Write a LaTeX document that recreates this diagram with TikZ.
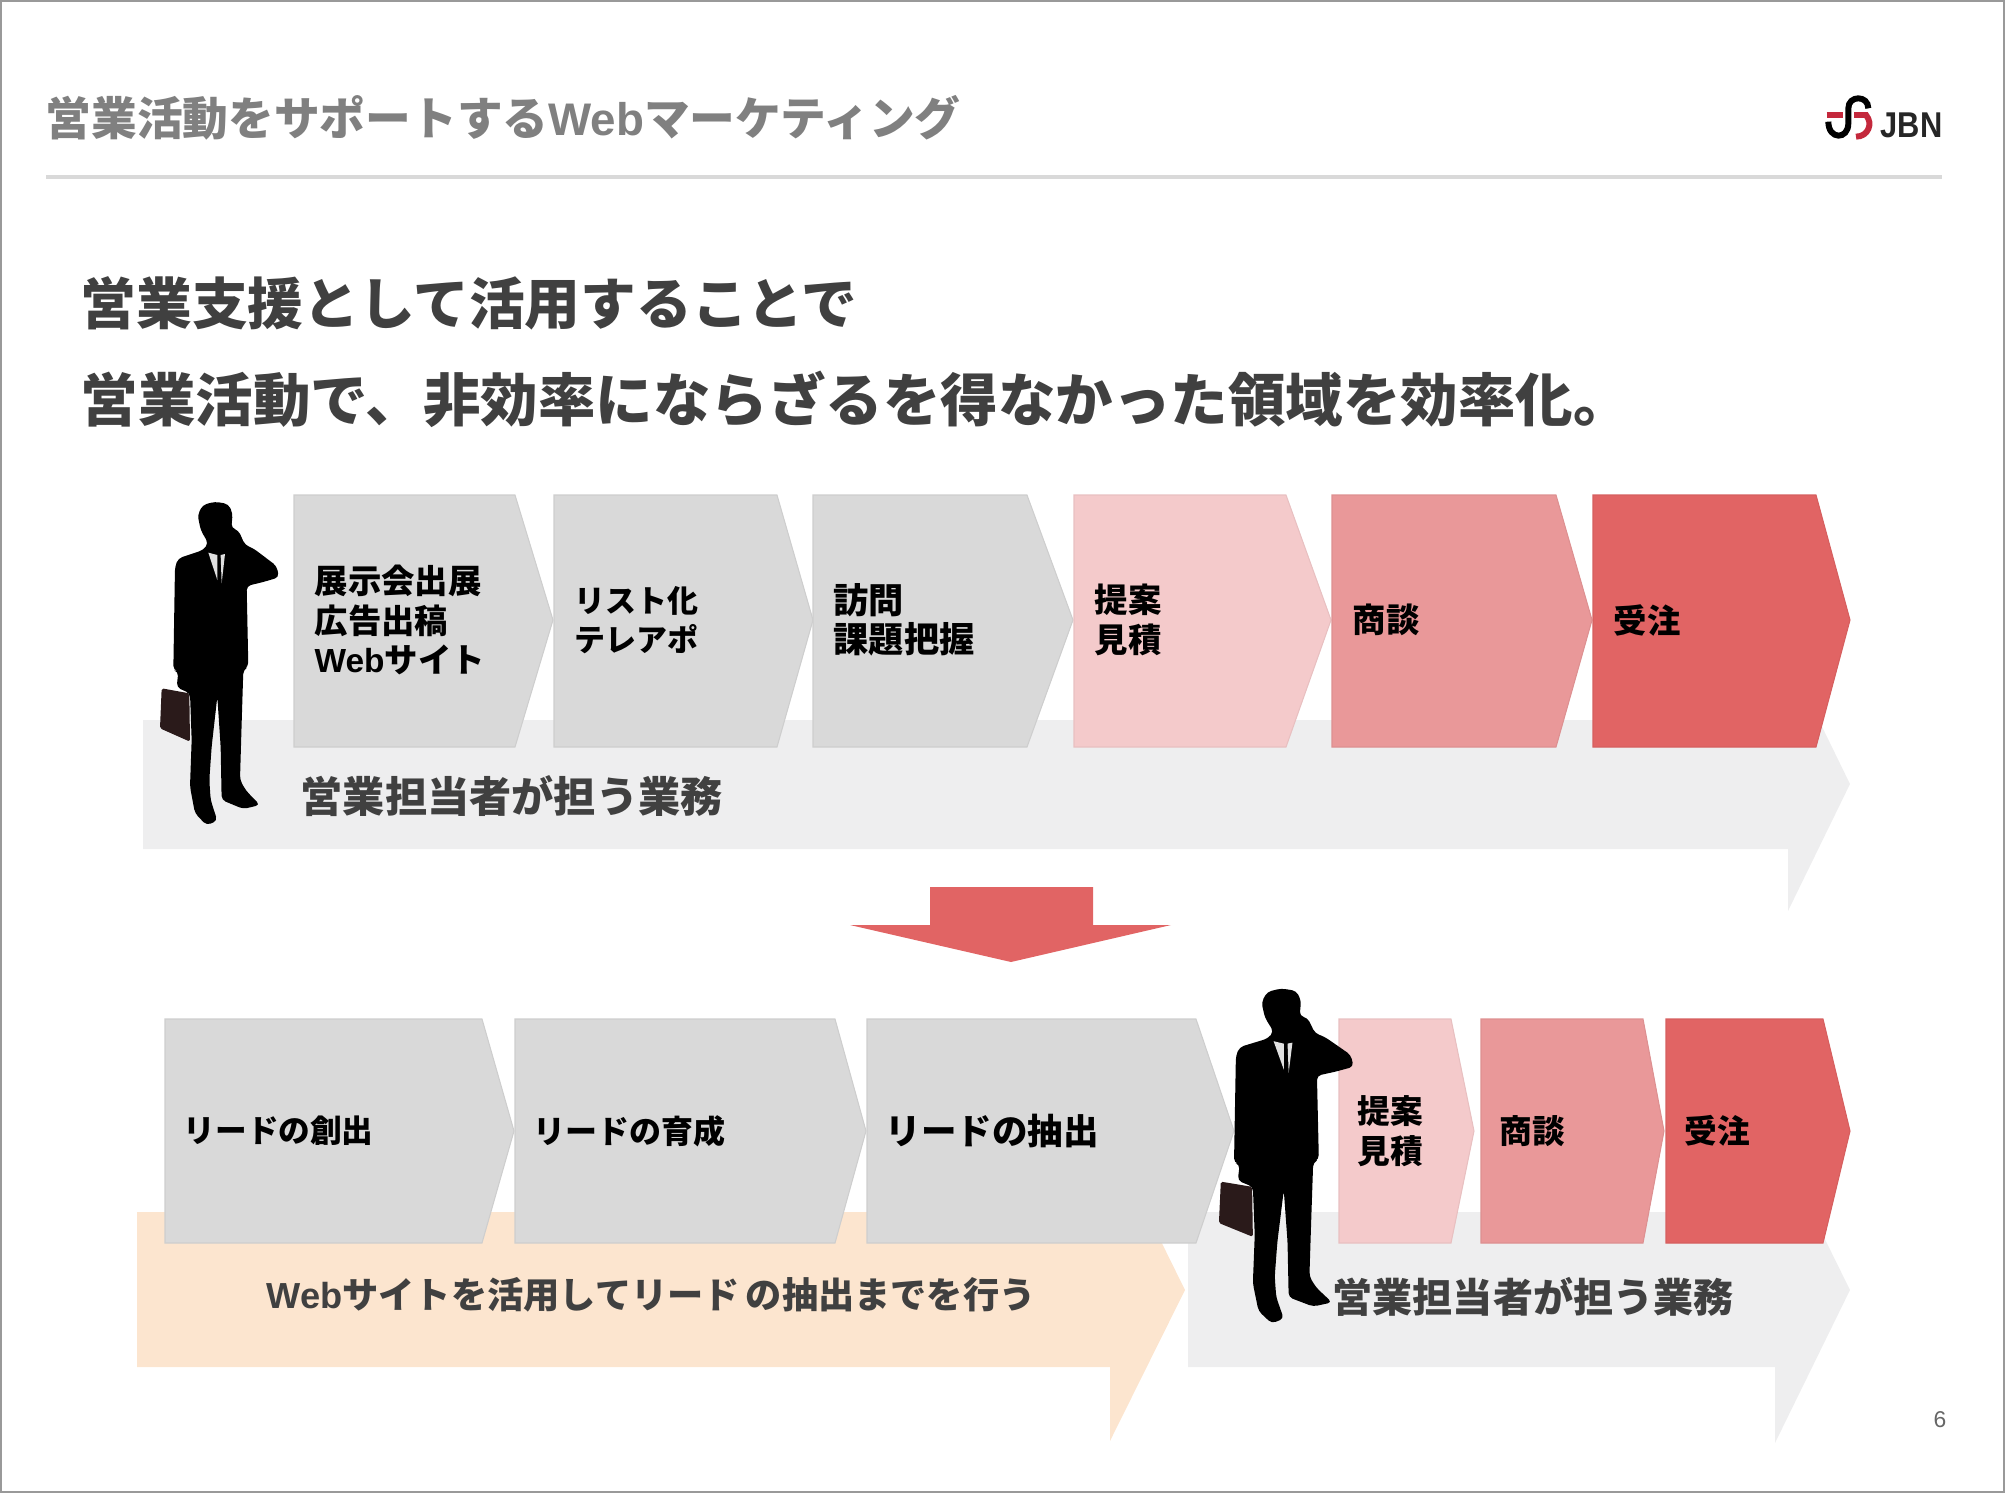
\documentclass[tikz,border=0pt]{standalone}
\usepackage{fontspec}
\setmainfont{Noto Sans CJK JP}
\newfontfamily\lat{Liberation Sans}
\definecolor{bandgray}{RGB}{238,238,239}
\definecolor{stepgray}{RGB}{217,217,217}
\definecolor{steppink}{RGB}{244,202,203}
\definecolor{steprose}{RGB}{233,152,153}
\definecolor{stepred}{RGB}{225,100,100}
\definecolor{bandorange}{RGB}{252,229,207}
\definecolor{logored}{RGB}{196,40,60}
\definecolor{bagbrown}{RGB}{42,26,26}
\tikzset{
    steplabel/.style={anchor=west, inner sep=0pt, align=left, text=black},
    bandlabel/.style={inner sep=0pt, text=black!75},
    pics/caller/.style={code={
        \fill[bagbrown, rounded corners=0.5pt] (95,625) -- (178,640) -- (180,785) -- (90,745) -- cycle;
        \fill[black, rounded corners=1.2pt] (255,65) -- (295,72) -- (308,100) -- (304,145) -- (325,150) -- (345,195)
            -- (370,205) -- (440,258) -- (447,292) -- (400,306) -- (350,318) -- (355,560) -- (340,570) -- (335,730)
            -- (330,900) -- (348,932) -- (390,975) -- (340,987) -- (275,960) -- (272,800) -- (262,650)
            -- (245,800) -- (238,900) -- (242,960) -- (262,1022) -- (230,1036) -- (195,1000) -- (180,920)
            -- (185,780) -- (180,640) -- (140,622) -- (145,575) -- (130,570) -- (135,260) -- (145,235) -- (220,210)
            -- (235,190) -- (212,150) -- (203,105) -- (218,75) -- cycle;
        \fill[black!12] (235,218) -- (262,225) -- (262,300) -- cycle;
        \fill[black!12] (272,225) -- (285,222) -- (275,310) -- cycle;
    }}
}
\begin{document}
\begin{tikzpicture}[x=0.01cm, y=-0.01cm]
    \useasboundingbox (0,0) rectangle (2005,1493);
    \draw[black!40, line width=0.6pt] (1,1) rectangle (2004,1492);

    % header
    \node[anchor=west, inner sep=0pt, text=black!50, font={\fontsize{13}{15}\selectfont\bfseries}] (title) at (45,118)
        {営業活動をサポートする{\lat Web}マーケティング};
    \draw[stepgray, line width=1pt] (46,177) -- (1942,177);
    \begin{scope}[shift={(1780,80)}, scale=0.3333]
        \draw[black, line width=1.7pt] (145,125) .. controls (145,180) and (205,180) .. (205,130) -- (205,85)
            .. controls (205,45) and (265,45) .. (265,85);
        \draw[logored, line width=1.7pt] (140,105) -- (188,105);
        \draw[logored, line width=1.7pt] (222,105) -- (258,105) .. controls (280,130) and (265,170) .. (228,170);
    \end{scope}
    \node[anchor=west, inner sep=0pt, xscale=0.86, font={\lat\fontsize{10.2}{12}\selectfont\bfseries}, text=black!85] (logo) at (1880,125) {JBN};

    \node[anchor=west, inner sep=0pt, text=black!75, font={\fontsize{15.85}{18}\selectfont\bfseries}] (head1) at (80,303)
        {営業支援として活用することで};
    \node[anchor=west, inner sep=0pt, text=black!75, font={\fontsize{16.35}{18}\selectfont\bfseries}] (head2) at (80,399)
        {営業活動で、非効率にならざるを得なかった領域を効率化。};

    % upper row
    \fill[bandgray] (143,720) -- (1788,720) -- (1788,657) -- (1850,784) -- (1788,911) -- (1788,849) -- (143,849) -- cycle;
    \foreach \n/\a/\b/\c/\col/\size/\txt in {
        1/294/515/553/stepgray/9.5/{展示会出展\\広告出稿\\{\lat Web}サイト},
        2/554/777/813/stepgray/8.8/{リスト化\\テレアポ},
        3/813/1027/1073/stepgray/10/{訪問\\課題把握},
        4/1074/1286/1331/steppink/9.5/{提案\\見積},
        5/1332/1556/1592/steprose/9.5/{商談},
        6/1593/1816/1850/stepred/9.5/{受注}} {
        \draw[fill=\col, draw=\col!95!black, line width=0.3pt] (\a,495) -- (\b,495) -- (\c,620) -- (\b,747) -- (\a,747) -- cycle;
        \node[steplabel, font={\fontsize{\size}{11.2}\selectfont\bfseries}] (up\n) at (\a+20,620) {\txt};
    }
    \pic[scale=0.3333] at (130,480) {caller};
    \node[bandlabel, anchor=west, font={\fontsize{12}{14}\selectfont\bfseries}] (uplabel) at (300,796) {営業担当者が担う業務};

    % arrow between rows
    \fill[stepred] (930,887) -- (1093,887) -- (1093,925) -- (1171,925) -- (1011,962) -- (850,925) -- (930,925) -- cycle;

    % lower row
    \fill[bandgray] (1188,1212) -- (1775,1212) -- (1775,1138) -- (1850,1290) -- (1775,1443) -- (1775,1367) -- (1188,1367) -- cycle;
    \fill[bandorange] (137,1212) -- (1110,1212) -- (1110,1138) -- (1185,1290) -- (1110,1441) -- (1110,1367) -- (137,1367) -- cycle;
    \foreach \n/\a/\b/\c/\col/\size/\txt in {
        1/165/482/514/stepgray/9/{リードの創出},
        2/515/835/866/stepgray/9.1/{リードの育成},
        3/867/1196/1234/stepgray/10.1/{リードの抽出},
        4/1339/1451/1474/steppink/9.3/{提案\\見積},
        5/1481/1643/1664/steprose/9.3/{商談},
        6/1666/1823/1850/stepred/9.3/{受注}} {
        \draw[fill=\col, draw=\col!95!black, line width=0.3pt] (\a,1019) -- (\b,1019) -- (\c,1131) -- (\b,1243) -- (\a,1243) -- cycle;
        \node[steplabel, font={\fontsize{\size}{11.2}\selectfont\bfseries}] (low\n) at (\a+18,1131) {\txt};
    }
    \pic[xscale=0.377, yscale=0.345] at (1185,966) {caller};
    \node[bandlabel, anchor=west, font={\fontsize{10.3}{13}\selectfont\bfseries}] (weblabel) at (266,1295)
        {{\lat Web}サイトを活用してリード\,の抽出までを行う};
    \node[bandlabel, anchor=west, font={\fontsize{11.4}{14}\selectfont\bfseries}] (lowlabel) at (1332,1297) {営業担当者が担う業務};

    \node[text=black!60, inner sep=0pt, font={\lat\fontsize{6.5}{8}\selectfont}] (page) at (1940,1420) {6};
\end{tikzpicture}
\end{document}
